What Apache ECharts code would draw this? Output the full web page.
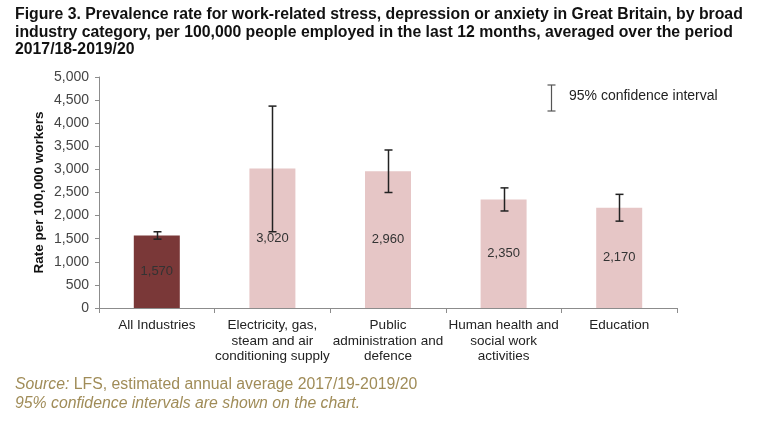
<!DOCTYPE html>
<html>
<head>
<meta charset="utf-8">
<script src="https://cdn.jsdelivr.net/npm/echarts@6/dist/echarts.min.js"></script>
<style>
html,body{margin:0;padding:0;background:#fff;}
#chart{width:768px;height:424px;}
</style>
</head>
<body>
<div id="chart"></div>
<script>
var categories = ['All Industries', 'Electricity, gas,\nsteam and air\nconditioning supply', 'Public\nadministration and\ndefence', 'Human health and\nsocial work\nactivities', 'Education'];
var rates = [1570, 3020, 2960, 2350, 2170];
var ciLow = [1490, 1650, 2500, 2100, 1880];
var ciHigh = [1650, 4370, 3420, 2600, 2460];
var yTicks = [0, 500, 1000, 1500, 2000, 2500, 3000, 3500, 4000, 4500, 5000];

var chart = echarts.init(document.getElementById('chart'));
var barColors = ['#7a3838', '#e6c6c6', '#e6c6c6', '#e6c6c6', '#e6c6c6'];

var option = {
  animation: false,
  backgroundColor: '#ffffff',
  title: {
    text: 'Figure 3. Prevalence rate for work-related stress, depression or anxiety in Great Britain, by broad\nindustry category, per 100,000 people employed in the last 12 months, averaged over the period\n2017/18-2019/20',
    left: 15, top: 6, padding: 0,
    textStyle: { fontFamily: 'Liberation Sans', fontSize: 15.8, fontWeight: 'bold', color: '#111', lineHeight: 17.5 }
  },
  grid: { left: 99, right: 91, top: 77, bottom: 116, containLabel: false },
  xAxis: {
    type: 'category',
    data: categories,
    axisLine: { lineStyle: { color: '#8c8c8c', width: 1 } },
    axisTick: { show: true, alignWithLabel: false, length: 5, lineStyle: { color: '#8c8c8c' } },
    axisLabel: { interval: 0, color: '#222', fontFamily: 'Liberation Sans', fontSize: 13.5, lineHeight: 15.5, margin: 10 }
  },
  yAxis: {
    type: 'value', min: yTicks[0], max: yTicks[yTicks.length - 1], interval: yTicks[1] - yTicks[0],
    name: 'Rate per 100,000 workers', nameLocation: 'middle', nameGap: 53, nameMoveOverlap: false,
    nameTextStyle: { fontFamily: 'Liberation Sans', fontSize: 13.5, fontWeight: 'bold', color: '#111' },
    axisLine: { show: true, lineStyle: { color: '#8c8c8c' } },
    axisTick: { show: true, length: 4, lineStyle: { color: '#8c8c8c' } },
    splitLine: { show: false },
    axisLabel: {
      color: '#444', fontFamily: 'Liberation Sans', fontSize: 14, margin: 10,
      formatter: function (v) { return v.toLocaleString('en-GB'); }
    }
  },
  series: [
    {
      type: 'bar',
      data: rates.map(function (v, i) { return { value: v, itemStyle: { color: barColors[i] } }; }),
      barWidth: 46,
      label: {
        show: true, position: 'inside', color: '#333', fontFamily: 'Liberation Sans', fontSize: 13,
        formatter: function (p) { return p.value.toLocaleString('en-GB'); }
      },
      z: 2
    },
    {
      type: 'custom',
      data: categories.map(function (c, i) { return [i, ciLow[i], ciHigh[i]]; }),
      renderItem: function (params, api) {
        var lo = api.coord([api.value(0), api.value(1)]);
        var hi = api.coord([api.value(0), api.value(2)]);
        var x = Math.round(lo[0]) + 0.5;
        var cw = 4;
        var st = { stroke: '#222', lineWidth: 1.5 };
        return {
          type: 'group',
          children: [
            { type: 'line', shape: { x1: x, y1: lo[1], x2: x, y2: hi[1] }, style: st },
            { type: 'line', shape: { x1: x - cw, y1: lo[1], x2: x + cw, y2: lo[1] }, style: st },
            { type: 'line', shape: { x1: x - cw, y1: hi[1], x2: x + cw, y2: hi[1] }, style: st }
          ]
        };
      },
      z: 5
    }
  ],
  graphic: [
    { type: 'line', shape: { x1: 551.5, y1: 85, x2: 551.5, y2: 111 }, style: { stroke: '#555', lineWidth: 1.2 } },
    { type: 'line', shape: { x1: 547.5, y1: 85, x2: 555.5, y2: 85 }, style: { stroke: '#555', lineWidth: 1.2 } },
    { type: 'line', shape: { x1: 547.5, y1: 111, x2: 555.5, y2: 111 }, style: { stroke: '#555', lineWidth: 1.2 } },
    { type: 'text', left: 569, top: 89, style: { text: '95% confidence interval', fontFamily: 'Liberation Sans', fontSize: 14, fill: '#222' } },
    {
      type: 'text', left: 15, top: 375,
      style: {
        text: '{i|Source:} LFS, estimated annual average 2017/19-2019/20\n{i|95% confidence intervals are shown on the chart.}',
        fontFamily: 'Liberation Sans', fontSize: 15.8, fill: '#a08c58', lineHeight: 19,
        rich: { i: { fontStyle: 'italic', fontFamily: 'Liberation Sans', fontSize: 15.8, fill: '#a08c58', lineHeight: 19 } }
      }
    }
  ]
};
chart.setOption(option);
</script>
</body>
</html>
